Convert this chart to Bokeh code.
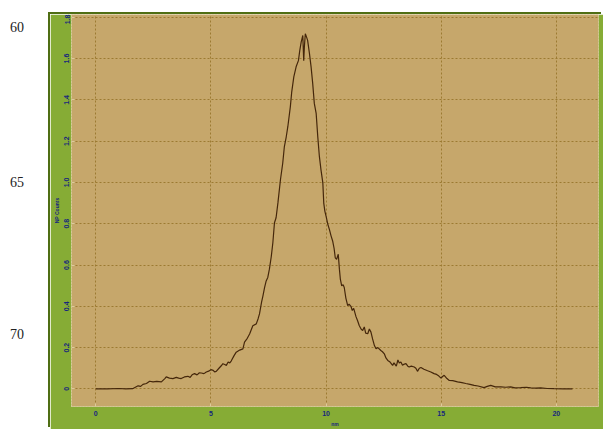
from bokeh.plotting import figure
from bokeh.models import ColumnDataSource, FixedTicker, Div, Range1d
from bokeh.layouts import row
from bokeh.embed import file_html
from bokeh.resources import INLINE

# ---- data ----
size_nm = [0.0, 0.5, 1.0, 1.3, 1.6, 1.84, 1.95, 2.05, 2.2, 2.34, 2.49, 2.65, 2.85, 3.0, 3.06,
           3.2, 3.35, 3.5, 3.6, 3.71, 3.85, 4.0, 4.1, 4.2, 4.29, 4.4, 4.5, 4.58, 4.7, 4.8,
           4.9, 5.0, 5.1, 5.16, 5.23, 5.35, 5.45, 5.52, 5.6, 5.67, 5.75, 5.82, 5.88, 6.0, 6.1,
           6.25, 6.39, 6.46, 6.58, 6.68, 6.82, 6.97, 7.05, 7.11, 7.2, 7.26, 7.33, 7.4, 7.47, 7.54,
           7.62, 7.69, 7.76, 7.83, 7.91, 8.02, 8.12, 8.19, 8.27, 8.34, 8.45, 8.51, 8.6, 8.7, 8.8,
           8.86, 8.92, 8.99, 9.03, 9.06, 9.1, 9.15, 9.2, 9.28, 9.35, 9.42, 9.49, 9.57, 9.64, 9.71,
           9.78, 9.86, 9.9, 9.95, 10.0, 10.07, 10.15, 10.22, 10.29, 10.35, 10.4, 10.46, 10.53, 10.58, 10.62,
           10.68, 10.74, 10.79, 10.86, 10.94, 11.0, 11.08, 11.14, 11.2, 11.3, 11.37, 11.44, 11.52, 11.59, 11.66,
           11.72, 11.81, 11.88, 11.95, 12.02, 12.1, 12.17, 12.25, 12.38, 12.45, 12.53, 12.6, 12.68, 12.78, 12.89,
           12.95, 13.05, 13.12, 13.18, 13.25, 13.32, 13.4, 13.47, 13.55, 13.61, 13.7, 13.83, 13.9, 13.97, 14.05,
           14.12, 14.25, 14.41, 14.55, 14.69, 14.8, 14.9, 14.99, 15.06, 15.13, 15.25, 15.35, 15.5, 15.71, 15.9,
           16.07, 16.25, 16.43, 16.6, 16.86, 17.0, 17.15, 17.35, 17.59, 17.8, 18.02, 18.2, 18.45, 18.7, 18.89,
           19.1, 19.32, 19.6, 19.9, 20.3, 20.7]
counts = [0.0, 0.0, 0.002, 0.0, 0.001, 0.015, 0.012, 0.022, 0.026, 0.037, 0.034, 0.036, 0.034, 0.05, 0.058,
          0.052, 0.05, 0.056, 0.052, 0.05, 0.058, 0.061, 0.056, 0.07, 0.074, 0.068, 0.078, 0.077, 0.074, 0.082,
          0.086, 0.093, 0.09, 0.082, 0.085, 0.1, 0.112, 0.122, 0.118, 0.114, 0.13, 0.126, 0.135, 0.16, 0.178,
          0.188, 0.194, 0.227, 0.245, 0.266, 0.306, 0.315, 0.34, 0.363, 0.42, 0.451, 0.49, 0.523, 0.54, 0.58,
          0.64, 0.708, 0.805, 0.829, 0.901, 1.013, 1.094, 1.174, 1.22, 1.27, 1.367, 1.439, 1.511, 1.56, 1.59,
          1.64, 1.68, 1.712, 1.59, 1.66, 1.72, 1.705, 1.688, 1.624, 1.56, 1.48, 1.383, 1.335, 1.222, 1.126,
          1.061, 0.998, 0.9, 0.86, 0.837, 0.8, 0.77, 0.74, 0.715, 0.68, 0.635, 0.628, 0.652, 0.58, 0.532,
          0.499, 0.505, 0.491, 0.44, 0.403, 0.41, 0.4, 0.38, 0.39, 0.35, 0.33, 0.307, 0.29, 0.283, 0.3,
          0.27, 0.267, 0.29, 0.275, 0.242, 0.21, 0.194, 0.2, 0.186, 0.18, 0.17, 0.15, 0.138, 0.13, 0.114,
          0.126, 0.11, 0.14, 0.125, 0.13, 0.114, 0.12, 0.122, 0.11, 0.106, 0.11, 0.106, 0.1, 0.085, 0.1,
          0.104, 0.095, 0.088, 0.082, 0.074, 0.07, 0.062, 0.052, 0.06, 0.066, 0.05, 0.041, 0.04, 0.034, 0.03,
          0.026, 0.022, 0.017, 0.014, 0.006, 0.012, 0.017, 0.01, 0.01, 0.008, 0.01, 0.005, 0.006, 0.008, 0.005,
          0.004, 0.005, 0.002, 0.001, 0.0, 0.0]

x_ticks = [0, 5, 10, 15, 20]
y_ticks = [0, 0.2, 0.4, 0.6, 0.8, 1.0, 1.2, 1.4, 1.6, 1.8]
y_tick_labels = ["0", "0.2", "0.4", "0.6", "0.8", "1.0", "1.2", "1.4", "1.6", "1.8"]
line_numbers = ["60", "65", "70"]

# ---- styling ----
TAN = "#c6a76b"
GREEN = "#86ac35"
DARK_GREEN = "#4f6e14"
GRID = "#9c7a32"
NAVY = "#16267e"
LIGHT = "#dccb9c"

src = ColumnDataSource(dict(x=size_nm, y=counts))

p = figure(width=553, height=415, output_backend="svg", toolbar_location=None,
           x_range=Range1d(-1.053, 21.83), y_range=Range1d(-0.0853, 1.8135),
           min_border_left=20, min_border_right=5, min_border_top=0, min_border_bottom=21,
           background_fill_color=TAN, border_fill_color=GREEN,
           margin=(6, 0, 0, 0),
           styles={"box-shadow": "-2px -2px 0px 0px " + DARK_GREEN})
p.outline_line_color = LIGHT
p.outline_line_dash = "1 2"
p.outline_line_width = 1

p.line("x", "y", source=src, line_color="#45270b", line_width=1.2)

p.xaxis.ticker = FixedTicker(ticks=x_ticks)
p.yaxis.ticker = FixedTicker(ticks=y_ticks)
p.yaxis.major_label_overrides = {t: l for t, l in zip(y_ticks, y_tick_labels)}
p.xaxis.major_label_overrides = {t: str(t) for t in x_ticks}

p.xaxis.axis_label = "nm"
p.yaxis.axis_label = "NP Counts"

for ax in (p.xaxis, p.yaxis):
    ax.axis_line_color = LIGHT
    ax.axis_line_dash = "1 2"
    ax.major_tick_out = 0
    ax.major_tick_in = 3
    ax.minor_tick_out = 0
    ax.minor_tick_in = 2
    ax.major_tick_line_color = LIGHT
    ax.minor_tick_line_color = LIGHT
    ax.major_label_text_font = "Liberation Sans"
    ax.major_label_text_font_style = "bold"
    ax.major_label_text_font_size = "7px"
    ax.major_label_text_color = NAVY
    ax.axis_label_text_font = "Liberation Sans"
    ax.axis_label_text_font_style = "bold"
    ax.axis_label_text_font_size = "5px"
    ax.axis_label_text_color = NAVY
    ax.major_label_standoff = 3
    ax.axis_label_standoff = 2

p.xaxis.major_label_standoff = 4
p.yaxis.major_label_standoff = 2
p.yaxis.major_label_orientation = "vertical"

p.xgrid.grid_line_color = GRID
p.ygrid.grid_line_color = GRID
p.xgrid.grid_line_dash = "2 2"
p.ygrid.grid_line_dash = "2 2"
p.xgrid.grid_line_width = 1
p.ygrid.grid_line_width = 1

# left white margin with document line numbers
tops = [10, 165, 317]
spans = "".join(
    '<span style="position:absolute;left:2px;top:%dpx;">%s</span>' % (t, n)
    for t, n in zip(tops, line_numbers))
div = Div(text='<div style="position:relative;width:42px;height:421px;'
               'font-family:\'Liberation Serif\';font-size:14px;color:#222;">' + spans + '</div>',
          width=42, height=421, margin=(0, 0, 0, 0))

layout = row(div, p, spacing=0, margin=(8, 0, 0, 8))

open("out.html", "w").write(file_html(layout, INLINE))
